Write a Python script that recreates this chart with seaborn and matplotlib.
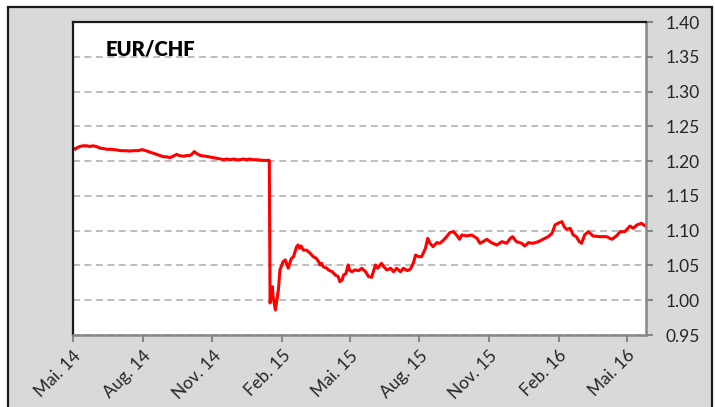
import pandas as pd
import matplotlib.pyplot as plt
import matplotlib.patches as mpatches
import seaborn as sns

# Stil
sns.set_style("white")
plt.rcParams["font.family"] = ["Lato", "DejaVu Sans"]

ROT = "#FF0000"
GRAU_BOX = "#D9D9D9"
GRAU_ACHSE = "#868686"
GRAU_GRID = "#ABABAB"

# Daten: Tage seit 01.05.2014 und EUR/CHF-Kurs
START = "2014-05-01"
tage = [
    0, 3, 5, 9, 13, 18, 22, 26, 31, 35, 40, 45, 50, 58, 63, 68, 75, 80, 86, 91,
    96, 102, 107, 112, 119, 124, 128, 132, 137, 140, 146, 150, 154, 157, 160, 163,
    168, 175, 180, 185, 190, 195, 198, 203, 208, 212, 216, 220, 225, 229, 233, 238,
    242, 247, 252, 256, 258, 259,
    260, 263, 264, 267, 271, 273, 277, 280, 284, 288, 291, 295, 297, 299, 301, 304,
    308, 313, 317, 321, 324, 326, 328, 330, 335, 337, 342, 346, 350, 352, 355, 357,
    360, 363, 365, 368, 372, 377, 381, 386, 390, 394, 399, 402, 407, 410, 414, 419,
    423, 427, 432, 436, 441, 445, 449, 452, 456, 460, 465, 468, 471, 475,
    480, 484, 489, 493, 497, 502, 506, 510, 513, 519, 526, 533, 537, 541, 546, 552,
    559, 566, 572, 577, 580, 585, 592, 596, 601, 607, 614, 620, 627, 632, 636, 640,
    645, 648, 651, 656, 660, 664, 668, 671, 675, 680, 686, 695, 704, 711, 717, 722,
    728, 735, 739, 744, 750, 755,
]
kurs = [
    1.219, 1.217, 1.219, 1.221, 1.222, 1.222, 1.221, 1.222, 1.221, 1.219, 1.218, 1.217,
    1.217, 1.216, 1.215, 1.215, 1.2145, 1.215, 1.215, 1.2165, 1.215, 1.2127, 1.211, 1.209,
    1.2064, 1.206, 1.205, 1.207, 1.2098, 1.208, 1.207, 1.208, 1.208, 1.210, 1.2136, 1.211,
    1.208, 1.207, 1.206, 1.205, 1.204, 1.203, 1.202, 1.203, 1.202, 1.203, 1.202, 1.202,
    1.203, 1.202, 1.203, 1.202, 1.202, 1.2015, 1.201, 1.201, 1.2012, 1.201,
    0.996, 1.0195, 1.005, 0.986, 1.015, 1.0435, 1.055, 1.058, 1.046, 1.060, 1.0626, 1.077,
    1.0794, 1.0746, 1.078, 1.072, 1.072, 1.0674, 1.0626, 1.0603, 1.0555, 1.0507, 1.0531, 1.0483,
    1.0459, 1.0435, 1.041, 1.0363, 1.0339, 1.0267, 1.029, 1.0363, 1.038, 1.0507, 1.043, 1.041,
    1.0435, 1.0426, 1.0459, 1.041, 1.0339, 1.033, 1.0507, 1.0459, 1.0531, 1.0483, 1.0435, 1.0459,
    1.041, 1.0459, 1.041, 1.0459, 1.0426, 1.0445, 1.0531, 1.065, 1.0626, 1.0626, 1.0746, 1.089,
    1.0818, 1.077,
    1.0828, 1.0818, 1.0866, 1.0914, 1.0971, 1.0986, 1.0938, 1.0876, 1.0938, 1.0924, 1.0938, 1.089,
    1.0818, 1.0842, 1.0876, 1.0828, 1.0794, 1.0842, 1.0818, 1.089, 1.0914, 1.0842, 1.0818, 1.078,
    1.0828, 1.0818, 1.0842, 1.0876, 1.0914, 1.0962, 1.1082, 1.1106, 1.113, 1.1058, 1.102, 1.1034,
    1.0938, 1.0914, 1.0842, 1.0818, 1.0938, 1.0986, 1.0924, 1.0914, 1.0914, 1.0876, 1.0924, 1.0986,
    1.0986, 1.1067, 1.1034, 1.1082, 1.1106, 1.1067,
]

tick_daten = ["2014-05-01", "2014-08-01", "2014-11-01", "2015-02-01", "2015-05-01",
              "2015-08-01", "2015-11-01", "2016-02-01", "2016-05-01"]
tick_labels = ["Mai. 14", "Aug. 14", "Nov. 14", "Feb. 15", "Mai. 15",
               "Aug. 15", "Nov. 15", "Feb. 16", "Mai. 16"]
y_ticks = [0.95, 1.00, 1.05, 1.10, 1.15, 1.20, 1.25, 1.30, 1.35, 1.40]

df = pd.DataFrame({
    "DATUM": pd.Timestamp(START) + pd.to_timedelta(tage, unit="D"),
    "KURS": kurs,
})

# Figur ---------------------------------------------
fig = plt.figure(figsize=(7.15, 4.07), dpi=100)
fig.patch.set_facecolor("white")

# grauer Rahmen (Excel-Diagrammbereich)
box = mpatches.Rectangle(
    (8 / 715, -0.05), (712 - 8) / 715, 1.05 - 7 / 407,
    transform=fig.transFigure, facecolor=GRAU_BOX, edgecolor="#1a1a1a",
    linewidth=1.6, zorder=-5
)
fig.patches.append(box)

ax = fig.add_axes([73 / 715, 1 - 335 / 407, (646 - 73) / 715, (335 - 22) / 407])
ax.set_zorder(2)
ax.set_facecolor("white")

sns.lineplot(data=df, x="DATUM", y="KURS", color=ROT, linewidth=2.2, ax=ax)

ax.set_xlim(pd.Timestamp(START), pd.Timestamp(START) + pd.Timedelta(days=756))
ax.set_ylim(0.95, 1.40)

ax.set_xticks(pd.to_datetime(tick_daten))
ax.set_xticklabels(tick_labels, rotation=45, ha="right", rotation_mode="anchor")
ax.set_yticks(y_ticks)
ax.set_yticklabels([f"{v:.2f}" for v in y_ticks])

ax.yaxis.tick_right()
ax.tick_params(axis="y", which="both", right=True, left=False, direction="out",
               length=5, width=1.5, color=GRAU_ACHSE, labelsize=12.5, pad=9)
ax.tick_params(axis="x", bottom=True, direction="out", length=5, width=1.5,
               color=GRAU_ACHSE, labelsize=12.5, pad=4)

ax.set_xlabel("")
ax.set_ylabel("")

ax.grid(False)
ax.yaxis.grid(True, linestyle=(0, (4.5, 3)), color=GRAU_GRID, linewidth=1.1)

for s in ["top", "left"]:
    ax.spines[s].set_color("#1a1a1a")
    ax.spines[s].set_linewidth(1.6)
for s in ["right", "bottom"]:
    ax.spines[s].set_color(GRAU_ACHSE)
    ax.spines[s].set_linewidth(1.8)

ax.text(106 / 715, 1 - 49 / 407, "EUR/CHF", transform=fig.transFigure,
        fontsize=14.5, fontweight="heavy", ha="left", va="center", color="black",
        zorder=10)

fig.savefig("out.png", dpi=100)
